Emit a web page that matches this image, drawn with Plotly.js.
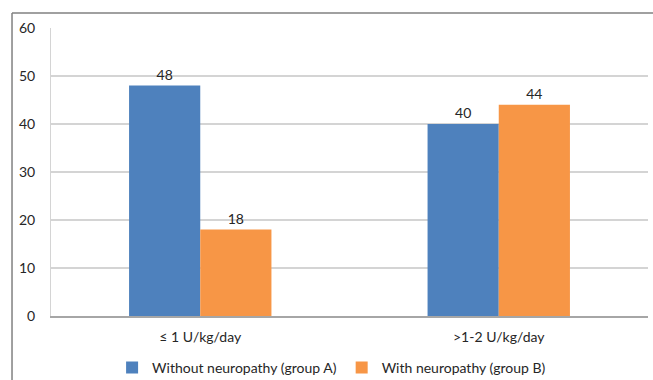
<!DOCTYPE html>
<html>
<head>
<meta charset="utf-8">
<script src="https://cdn.plot.ly/plotly-3.0.1.min.js"></script>
<style>
html,body{margin:0;padding:0;background:#fff;}
#chart{width:653px;height:380px;}
</style>
</head>
<body>
<div id="chart"></div>
<script>
const categories = ["≤ 1 U/kg/day", ">1-2 U/kg/day"];
const groupA = [48, 40];
const groupB = [18, 44];
const seriesNames = ["Without neuropathy (group A)", "With neuropathy (group B)"];
const yTicks = [0, 10, 20, 30, 40, 50, 60];

const fontFam = "Lato, 'Open Sans', sans-serif";
const textColor = "#262626";

const traces = [
  {type:"bar", x:categories, y:groupA, name:seriesNames[0],
   marker:{color:"#4e81bd"}, text:groupA.map(String), textposition:"outside",
   cliponaxis:false, textfont:{family:fontFam,size:14,color:textColor}},
  {type:"bar", x:categories, y:groupB, name:seriesNames[1],
   marker:{color:"#f79646"}, text:groupB.map(String), textposition:"outside",
   cliponaxis:false, textfont:{family:fontFam,size:14,color:textColor}}
];

const layout = {
  width:653, height:380,
  margin:{l:51, r:5, t:28, b:64, autoexpand:false},
  paper_bgcolor:"#fff", plot_bgcolor:"#fff",
  font:{family:fontFam, size:14, color:textColor},
  barmode:"group", bargap:0.523, bargroupgap:0,
  showlegend:true,
  legend:{orientation:"h", x:0.47, xanchor:"center", y:-0.18, yanchor:"middle",
          font:{family:fontFam,size:14,color:textColor}, itemwidth:30, tracegroupgap:0},
  xaxis:{type:"category", range:[-0.5,1.5], showline:true, linecolor:"#a6a6a6", linewidth:1.5,
         ticks:"", showgrid:false, zeroline:false, ticklabelstandoff:8,
         tickfont:{family:fontFam,size:14,color:textColor}},
  yaxis:{range:[0,60], tickvals:yTicks, showgrid:true, gridcolor:"#d4d4d4", gridwidth:1.2,
         showline:true, linecolor:"#d4d4d4", linewidth:1, zeroline:false, ticks:"",
         ticklabelstandoff:12, tickfont:{family:fontFam,size:14,color:textColor}},
  shapes:[
    {type:"line", xref:"paper", yref:"paper", x0:-0.0653, x1:-0.0653, y0:1.052, y1:-0.3,
     line:{color:"#808080", width:1.5}},
    {type:"line", xref:"paper", yref:"paper", x0:-0.0653, x1:1.02, y0:1.052, y1:1.052,
     line:{color:"#808080", width:1.5}}
  ]
};

Plotly.newPlot("chart", traces, layout, {displayModeBar:false, staticPlot:true});
</script>
</body>
</html>
